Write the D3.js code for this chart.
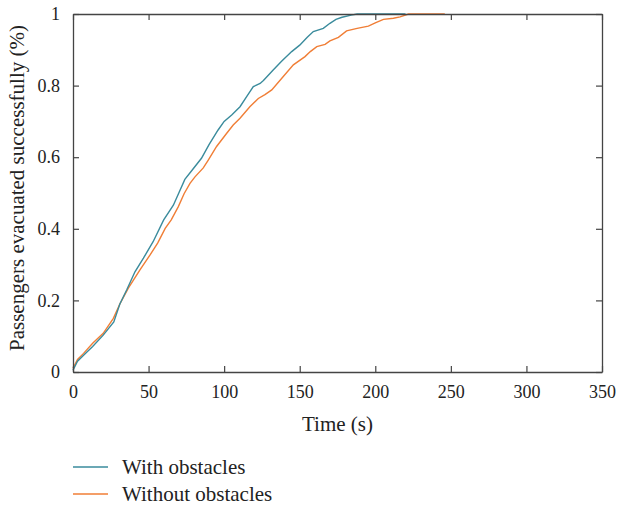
<!DOCTYPE html>
<html>
<head>
<meta charset="utf-8">
<script src="https://cdn.jsdelivr.net/npm/d3@7"></script>
<style>
  body { margin: 0; background: #fff; }
  text { font-family: "Liberation Serif", "DejaVu Serif", serif; fill: #222; }
</style>
</head>
<body>
<svg id="chart"></svg>
<script>
// time (s) and fraction evacuated
const withTime = [0, 3, 7, 13, 20, 27, 31, 35.5, 41, 46.6, 53, 60, 66.4, 70, 74, 78.5, 85, 90, 96, 100, 105, 110.5, 115, 119.3, 123.8, 126, 132.6, 138, 144.7, 150, 155, 159, 165.6, 170, 174, 178, 184, 188, 220];
const withValue = [0.005, 0.03, 0.047, 0.071, 0.103, 0.14, 0.19, 0.229, 0.28, 0.318, 0.364, 0.425, 0.466, 0.5, 0.538, 0.562, 0.597, 0.635, 0.676, 0.70, 0.718, 0.741, 0.77, 0.797, 0.806, 0.814, 0.844, 0.868, 0.895, 0.913, 0.935, 0.951, 0.96, 0.974, 0.985, 0.991, 0.997, 1, 1];

const withoutTime = [0, 3, 7, 13, 20, 26.7, 31, 36.6, 44.3, 51, 56, 61, 65, 69.7, 73.5, 77.4, 80.7, 86.2, 89.5, 95, 101.7, 106, 110.5, 117, 122.6, 127, 131.5, 138, 145.8, 153.5, 157, 161.3, 166.8, 170, 175.6, 181, 188, 195.4, 200, 205.4, 212, 216.4, 222, 246];
const withoutValue = [0.01, 0.035, 0.052, 0.08, 0.108, 0.15, 0.19, 0.234, 0.285, 0.327, 0.36, 0.401, 0.425, 0.462, 0.498, 0.527, 0.545, 0.57, 0.592, 0.63, 0.667, 0.69, 0.709, 0.741, 0.764, 0.775, 0.788, 0.82, 0.858, 0.881, 0.895, 0.909, 0.915, 0.925, 0.935, 0.953, 0.96, 0.966, 0.975, 0.985, 0.988, 0.992, 1, 1];

const xTicks = [0, 50, 100, 150, 200, 250, 300, 350];
const yTicks = [0, 0.2, 0.4, 0.6, 0.8, 1];
const seriesNames = ["With obstacles", "Without obstacles"];
const colors = ["#3a8b9c", "#f07e36"];

const width = 619, height = 508;
const margin = {top: 14, right: 17, bottom: 136, left: 73};
const innerW = width - margin.left - margin.right;
const innerH = height - margin.top - margin.bottom;

const svg = d3.select("#chart").attr("width", width).attr("height", height);
const g = svg.append("g").attr("transform", `translate(${margin.left},${margin.top})`);

const x = d3.scaleLinear().domain([0, 350]).range([0, innerW]);
const y = d3.scaleLinear().domain([0, 1]).range([innerH, 0]);

const series = [
  withTime.map((t, i) => [t, withValue[i]]),
  withoutTime.map((t, i) => [t, withoutValue[i]])
];

const line = d3.line().x(d => x(d[0])).y(d => y(d[1]));

// draw orange first so teal sits on top where they overlap at 1
[1, 0].forEach(k => {
  g.append("path")
    .datum(series[k])
    .attr("fill", "none")
    .attr("stroke", colors[k])
    .attr("stroke-width", 1.4)
    .attr("d", line);
});

// axes with inward ticks on all four sides
const fmt = d => d;
const axisStyle = sel => {
  sel.select(".domain").attr("stroke", "#444").attr("stroke-width", 1.3);
  sel.selectAll(".tick line").attr("stroke", "#444").attr("stroke-width", 1.2);
  sel.selectAll("text").style("font-size", "18px").style("font-family", "Liberation Serif, serif").attr("fill", "#222");
};

g.append("g").attr("transform", `translate(0,${innerH})`)
  .call(d3.axisBottom(x).tickValues(xTicks).tickFormat(fmt).tickSizeInner(-6).tickSizeOuter(0).tickPadding(13))
  .call(axisStyle);
g.append("g")
  .call(d3.axisTop(x).tickValues(xTicks).tickFormat("").tickSizeInner(-6).tickSizeOuter(0))
  .call(axisStyle);
g.append("g")
  .call(d3.axisLeft(y).tickValues(yTicks).tickFormat(fmt).tickSizeInner(-6).tickSizeOuter(0).tickPadding(13))
  .call(axisStyle);
g.append("g").attr("transform", `translate(${innerW},0)`)
  .call(d3.axisRight(y).tickValues(yTicks).tickFormat("").tickSizeInner(-6).tickSizeOuter(0))
  .call(axisStyle);

// axis titles
svg.append("text")
  .attr("x", margin.left + innerW / 2)
  .attr("y", 431)
  .attr("text-anchor", "middle")
  .style("font-size", "21px")
  .text("Time (s)");

svg.append("text")
  .attr("transform", `translate(24,${margin.top + innerH / 2 - 5}) rotate(-90)`)
  .attr("text-anchor", "middle")
  .style("font-size", "21px")
  .text("Passengers evacuated successfully (%)");

// legend
const legend = svg.append("g").attr("transform", "translate(73,467)");
seriesNames.forEach((name, i) => {
  const row = legend.append("g").attr("transform", `translate(0,${i * 27})`);
  row.append("line").attr("x1", 0).attr("x2", 35).attr("y1", 0).attr("y2", 0)
    .attr("stroke", colors[i]).attr("stroke-width", 1.4);
  row.append("text").attr("x", 49).attr("y", 7).style("font-size", "21px").text(name);
});
</script>
</body>
</html>
